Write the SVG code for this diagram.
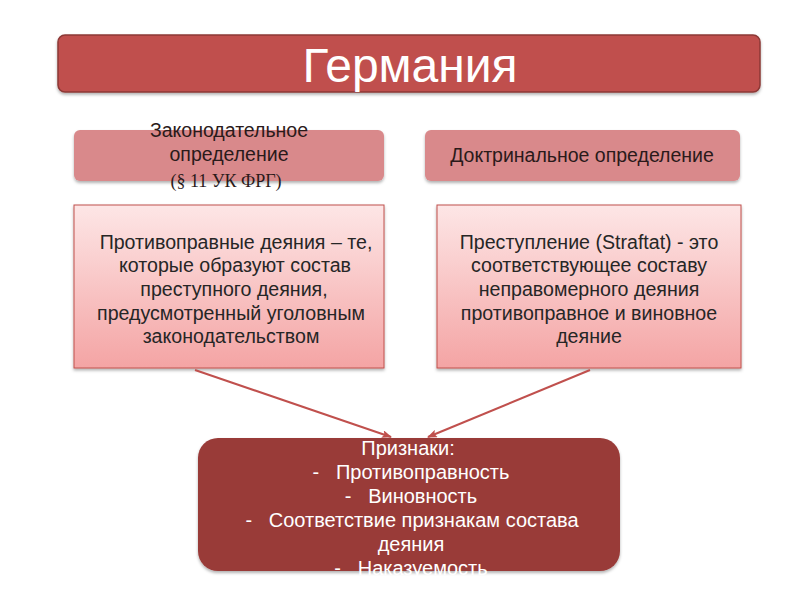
<svg xmlns="http://www.w3.org/2000/svg" width="800" height="600" viewBox="0 0 800 600">
<style>
.t{font-family:"Liberation Sans",Arial,sans-serif;text-anchor:middle}
.dark{fill:#2a1a1a;font-size:19.5px}
.body{fill:#262626;font-size:19.6px}
.w{fill:#ffffff;font-size:20px}
.hdr{fill:#d9898b}
.bx{stroke:#c0504d;stroke-width:1}
</style>
<defs>
<linearGradient id="pg" x1="0" y1="0" x2="0" y2="1">
<stop offset="0" stop-color="#fde6e6"/>
<stop offset="1" stop-color="#f4a4a4"/>
</linearGradient>
<marker id="ah" markerWidth="10" markerHeight="8" refX="9" refY="4" orient="auto" markerUnits="userSpaceOnUse">
<path d="M0,0 L10,4 L0,8 L2,4 z" fill="#c0504d"/>
</marker>
<filter id="sh" x="-5%" y="-10%" width="110%" height="125%">
<feDropShadow dx="0" dy="2" stdDeviation="1.5" flood-color="#000" flood-opacity="0.3"/>
</filter>
</defs>
<rect width="800" height="600" fill="#ffffff"/>
<g id="title">
<rect x="58" y="35" width="702" height="57" rx="7" fill="#c0504d" stroke="#8c3836" stroke-width="1.5" filter="url(#sh)"/>
<text class="t" x="410" y="82" fill="#ffffff" font-size="48">Германия</text>
</g>
<g id="left-header">
<rect class="hdr" x="74" y="130" width="310" height="51" rx="6" filter="url(#sh)"/>
<text class="t dark" x="229" y="137">Законодательное</text>
<text class="t dark" x="229" y="161">определение</text>
<text x="226" y="187" fill="#2a1a1a" font-size="18" text-anchor="middle" font-family="'Liberation Serif','Times New Roman',serif">(§ 11 УК ФРГ)</text>
</g>
<g id="right-header">
<rect class="hdr" x="425" y="130" width="315" height="51" rx="6" filter="url(#sh)"/>
<text class="t dark" x="582" y="162">Доктринальное определение</text>
</g>
<g id="left-body">
<rect class="bx" x="74" y="205" width="310" height="163" fill="url(#pg)" filter="url(#sh)"/>
<text class="t body" x="236" y="249">Противоправные деяния – те,</text>
<text class="t body" x="235" y="272">которые образуют состав</text>
<text class="t body" x="234" y="296">преступного деяния,</text>
<text class="t body" x="231" y="320">предусмотренный уголовным</text>
<text class="t body" x="231" y="343">законодательством</text>
</g>
<g id="right-body">
<rect class="bx" x="437" y="205" width="304" height="163" fill="url(#pg)" filter="url(#sh)"/>
<text class="t body" x="589" y="249">Преступление (Straftat) - это</text>
<text class="t body" x="589" y="272">соответствующее составу</text>
<text class="t body" x="589" y="296">неправомерного деяния</text>
<text class="t body" x="589" y="320">противоправное и виновное</text>
<text class="t body" x="589" y="343">деяние</text>
</g>
<g id="connectors" stroke="#c0504d" stroke-width="2" fill="none">
<line x1="195" y1="370" x2="391" y2="437" marker-end="url(#ah)"/>
<line x1="590" y1="370" x2="428" y2="437" marker-end="url(#ah)"/>
</g>
<g id="features">
<rect x="198" y="438" width="422" height="133" rx="20" fill="#993a38" filter="url(#sh)"/>
<text class="t w" x="408" y="455">Признаки:</text>
<text class="t w" x="411" y="479">-&#160;&#160; Противоправность</text>
<text class="t w" x="411" y="503">-&#160;&#160; Виновность</text>
<text class="t w" x="412" y="527">-&#160;&#160; Соответствие признакам состава</text>
<text class="t w" x="411" y="551">деяния</text>
<text class="t w" x="411" y="575">-&#160;&#160; Наказуемость</text>
</g>
</svg>
